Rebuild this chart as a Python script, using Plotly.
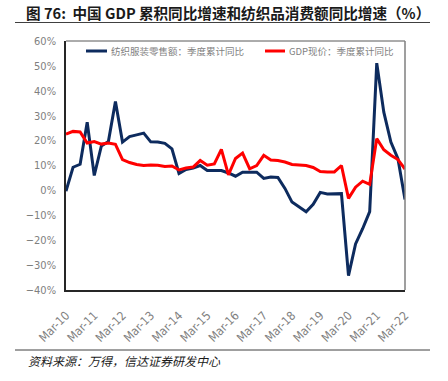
import plotly.graph_objects as go

quarters = [f"{m}-{y:02d}" for y in range(10, 23) for m in ["Mar", "Jun", "Sep", "Dec"]][:49]
tick_labels = ["Mar-10", "Mar-11", "Mar-12", "Mar-13", "Mar-14", "Mar-15", "Mar-16",
               "Mar-17", "Mar-18", "Mar-19", "Mar-20", "Mar-21", "Mar-22"]

textile_retail = [-0.3, 9.3, 10.5, 27.4, 6.0, 17.8, 19.6, 35.7, 19.4, 21.6, 22.3, 23.0,
                  19.5, 19.4, 18.9, 16.7, 6.8, 8.4, 9.0, 10.0, 8.0, 8.0, 8.0, 7.0,
                  5.7, 7.3, 7.3, 7.3, 4.8, 5.4, 5.2, 0.8, -4.7, -6.8, -8.6, -5.6,
                  -0.8, -1.4, -1.2, -1.3, -34.2, -21.5, -15.4, -8.5, 51.1, 31.4, 19.4, 12.7,
                  -3.7]
gdp_nominal = [22.6, 23.7, 23.5, 19.0, 19.6, 18.6, 19.0, 18.5, 12.4, 11.2, 10.4, 10.0,
               10.2, 10.1, 9.6, 9.8, 8.2, 9.0, 9.4, 12.0, 10.1, 10.6, 16.5, 6.2,
               12.8, 15.0, 8.7, 10.0, 14.1, 12.2, 12.0, 11.4, 10.4, 10.1, 10.0, 9.2,
               7.6, 7.4, 7.4, 10.0, -3.2, 1.3, 3.7, 2.4, 20.8, 16.3, 14.1, 12.4,
               8.6]
series_names = ["纺织服装零售额：季度累计同比", "GDP现价：季度累计同比"]
series_colors = ["#0D2B5E", "#FF0000"]

idx = list(range(len(quarters)))
tick_idx = [i for i, q in enumerate(quarters) if q.startswith("Mar")]

fig = go.Figure()
for name, vals, col in zip(series_names, [textile_retail, gdp_nominal], series_colors):
    fig.add_trace(go.Scatter(x=idx, y=vals, mode="lines", name=name,
                             line=dict(color=col, width=3)))

L, R, T, B = 66, 405, 41, 290
W, H = 448, 381
pw, ph = R - L, B - T

def px(x):
    return (x - L) / pw

def py(y):
    return (B - y) / ph

cjk = "Noto Sans CJK SC"
narrow = "Liberation Sans Narrow, DejaVu Sans Condensed, Arial"

# manual legend (line sample + label)
legend_pos = [(86, 107, 109), (265, 285, 287)]
legend_y = 51
shapes = []
annotations = []
for (x0, x1, xt), name, col in zip(legend_pos, series_names, series_colors):
    shapes.append(dict(type="line", xref="paper", yref="paper", x0=px(x0), x1=px(x1),
                       y0=py(legend_y), y1=py(legend_y), line=dict(color=col, width=3)))
    annotations.append(dict(text=name, xref="paper", yref="paper", x=px(xt), xanchor="left",
                            y=py(legend_y), yanchor="middle", showarrow=False,
                            font=dict(family=cjk, size=9.5, color="#7f7f7f")))

shapes += [
    dict(type="line", xref="paper", yref="paper", x0=0, x1=1, y0=1, y1=1,
         line=dict(color="#595959", width=1)),
    dict(type="line", xref="paper", yref="paper", x0=1, x1=1, y0=0, y1=1,
         line=dict(color="#7f7f7f", width=1.5)),
    dict(type="line", xref="paper", yref="paper", x0=px(15), x1=px(430),
         y0=py(22.5), y1=py(22.5), line=dict(color="#404040", width=1)),
    dict(type="line", xref="paper", yref="paper", x0=px(15), x1=px(430),
         y0=py(350), y1=py(350), line=dict(color="#404040", width=1)),
]
annotations.append(dict(text="<i>资料来源：万得，信达证券研发中心</i>", xref="paper", yref="paper",
                        x=px(26), xanchor="left", y=py(360), yanchor="middle", showarrow=False,
                        font=dict(family=cjk, size=12, color="#1a1a1a")))

fig.update_layout(
    width=W, height=H,
    margin=dict(l=L, r=W - R, t=T, b=H - B),
    paper_bgcolor="white", plot_bgcolor="white",
    title=dict(text="图 76:  中国 GDP 累积同比增速和纺织品消费额同比增速（%）",
               x=26 / W, xanchor="left", xref="container",
               y=1 - 14 / H, yanchor="middle", yref="container",
               font=dict(family=cjk, size=14.6, color="#1a1a1a", weight="bold")),
    showlegend=False,
    xaxis=dict(range=[0, len(quarters) - 1], tickvals=tick_idx, ticktext=tick_labels,
               tickangle=-45, showgrid=False, zeroline=False,
               showline=True, linecolor="#262626", linewidth=1.5,
               ticks="", ticklabelstandoff=12,
               tickfont=dict(family=narrow, size=12, color="#7f7f7f")),
    yaxis=dict(range=[-40, 60], dtick=10, ticksuffix="%", showgrid=False, zeroline=False,
               showline=True, linecolor="#262626", linewidth=1.5,
               ticks="", ticklabelstandoff=6,
               tickfont=dict(family=narrow, size=11, color="#7f7f7f")),
    shapes=shapes,
    annotations=annotations,
)

fig.write_html("out.html", config={"displayModeBar": False},
               post_script="document.body.style.margin='0';document.body.style.overflow='hidden';")
